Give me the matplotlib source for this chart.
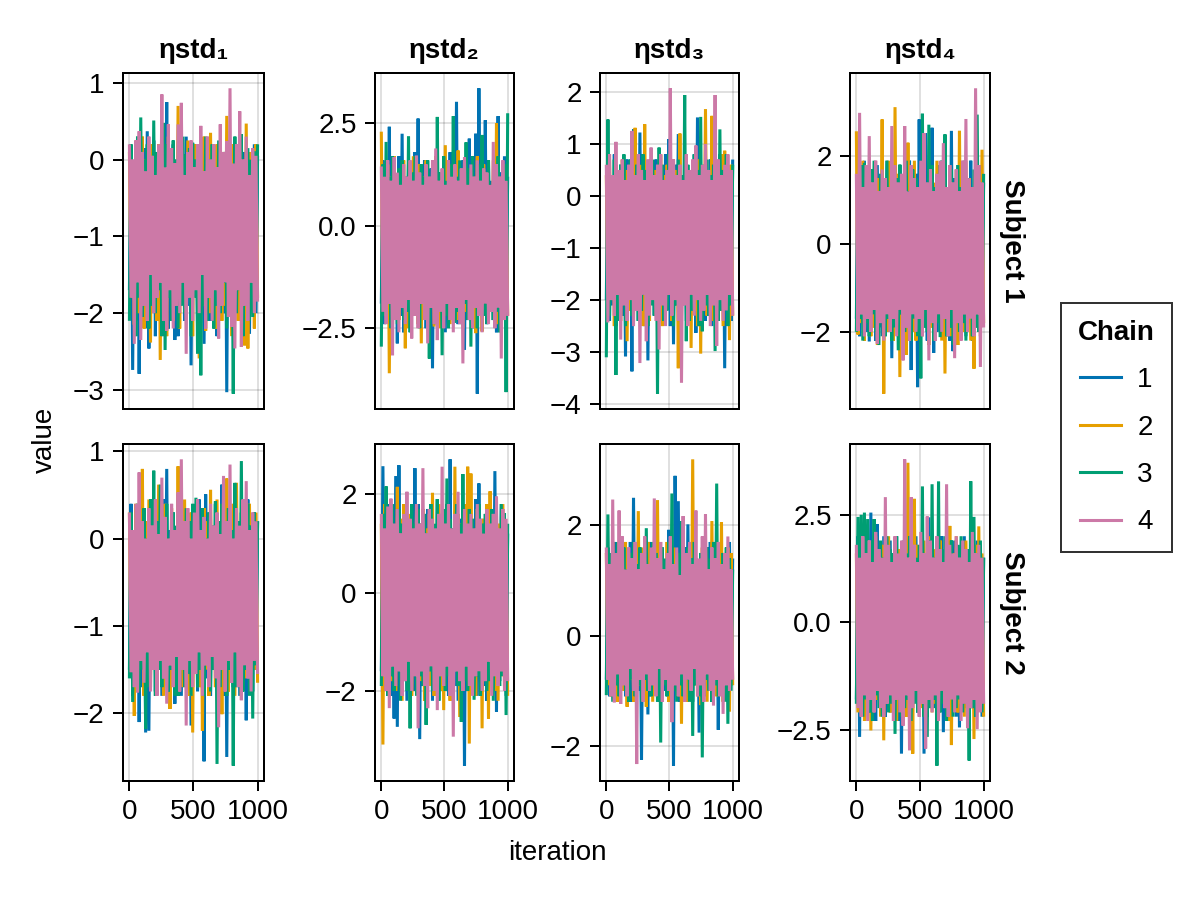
import numpy as np
import matplotlib
matplotlib.use("Agg")
import matplotlib.pyplot as plt
from matplotlib.lines import Line2D

plt.rcParams['font.family'] = ['Liberation Sans', 'DejaVu Sans']
plt.rcParams['axes.unicode_minus'] = True

# ---------------- data ----------------
chain_labels = ["1", "2", "3", "4"]
chain_colors = ["#0072B2", "#E69F00", "#009E73", "#CC79A7"]
param_titles = ["ηstd₁", "ηstd₂", "ηstd₃", "ηstd₄"]
subject_labels = ["Subject 1", "Subject 2"]
first_iter, last_iter = 1, 1000

# thinned traces; per panel: [chain1, chain2, chain3, chain4]
s1_eta1 = [
    [-1.7, 0.1, -2.74, -0.2, -2.1, 0.2, -2.79, -0.3, -1.6, 0.15, -2.2, 0.37, -2.46, -0.1, -1.8, 0.25, -2.3, -0.4, -1.9, 0.1,
     -2.0, -0.2, -1.7, 0.75, -2.2, 0.0, -1.6, 0.2, -2.35, -0.3, -2.3, 0.1, -1.8, -0.1, -2.1, 0.3, -1.9, -0.2, -2.68, 0.05,
     -1.7, 0.2, -2.2, -0.3, -1.9, 0.1, -2.4, 0.29, -1.6, -0.1, -2.1, 0.2, -1.8, -0.2, -2.3, 0.15, -1.9, -0.4, -2.0, 0.1,
     -3.03, 0.25, -1.7, -0.1, -2.2, 0.0, -1.8, 0.2, -2.1, -0.3, -1.9, 0.1, -2.3, 0.0, -2.27, -0.2, -1.8, 0.2, -2.0, 0.05],
    [0.1, -1.8, -0.2, -2.15, 0.25, -2.0, -0.1, -1.7, 0.3, -2.2, 0.0, -1.9, -0.3, -2.38, 0.2, -1.6, -0.1, -2.1, 0.2, -2.61,
     0.1, -1.8, -0.2, -2.3, 0.3, -1.7, 0.0, -2.1, -0.3, -1.9, 0.70, -2.2, 0.1, -1.6, -0.2, -2.0, 0.25, -1.8, -0.1, -2.3,
     0.2, -1.7, 0.0, -2.59, -0.2, -1.9, 0.3, -2.23, 0.0, -2.0, 0.35, -1.8, -0.1, -2.2, 0.2, -1.7, -0.3, -2.1, 0.1, -1.9,
     0.57, -2.0, 0.0, -2.3, 0.2, -1.6, -0.2, -2.1, 0.3, -1.8, 0.0, -2.42, 0.47, -2.46, 0.1, -1.9, -0.2, -2.2, 0.2, -1.8],
    [-2.1, 0.2, -1.7, -0.1, -2.3, 0.3, -1.8, 0.55, -2.05, 0.0, -1.6, 0.2, -2.2, -0.2, -1.9, 0.51, -2.0, 0.1, -1.7, -0.3,
     -2.3, 0.48, -2.48, 0.2, -1.8, -0.1, -2.1, 0.25, -1.6, 0.0, -2.2, -0.2, -1.9, 0.3, -2.0, 0.07, -1.7, 0.15, -2.3, 0.22,
     -1.8, 0.0, -2.53, 0.2, -2.81, -0.2, -1.9, 0.3, -2.1, 0.0, -1.7, 0.2, -2.2, -0.1, -1.9, 0.25, -2.0, -0.3, -1.6, 0.1,
     -2.2, 0.2, -1.8, -0.1, -3.05, 0.3, -2.0, 0.0, -1.7, 0.33, -2.3, -0.2, -1.9, 0.15, -2.1, 0.0, -2.05, 0.11, -1.8, 0.2],
    [0.2, -1.8, 0.0, -2.40, 0.25, -1.6, 0.37, -2.35, 0.1, -1.9, -0.15, -2.1, 0.3, -1.5, 0.05, -2.0, -0.2, -1.8, 0.2, -1.6,
     0.85, -2.1, -0.1, -2.23, 0.46, -1.7, 0.15, -2.2, -0.05, -1.9, 0.46, -2.0, 0.74, -1.6, -0.2, -2.53, 0.1, -1.8, 0.25, -2.1,
     -0.1, -1.7, 0.2, -2.0, 0.44, -1.5, -0.15, -2.2, 0.3, -1.8, 0.0, -2.1, 0.2, -1.7, -0.1, -2.33, 0.46, -1.9, 0.1, -1.6,
     0.24, -2.05, 0.93, -2.18, -0.05, -2.46, 0.2, -1.7, 0.63, -2.44, 0.0, -1.9, 0.3, -2.1, -0.2, -1.6, 0.15, -2.0, 0.05, -1.85],
]
s1_eta2 = [
    [-1.9, 1.6, -2.4, 1.1, -2.0, 2.42, -2.5, 1.4, -1.8, 0.9, -2.87, 1.7, -2.2, 2.25, -2.6, 1.2, -1.9, 1.5, -2.3, 1.0,
     -2.1, 1.8, -1.7, 2.62, -2.4, 1.3, -2.0, 1.6, -2.5, 1.1, -1.8, 1.4, -3.48, 1.2, -2.2, 1.7, -1.9, 1.0, -2.4, 1.5,
     -2.6, 1.3, -1.8, 1.8, -2.2, 1.1, -2.0, 3.03, -2.4, 1.4, -1.9, 1.6, -3.03, 1.2, -2.3, 2.13, -1.8, 1.5, -2.5, 2.25,
     -4.1, 3.36, -2.1, 1.2, -1.9, 2.58, -2.4, 1.6, -2.0, 1.1, -2.3, 1.5, -2.6, 2.68, -1.8, 1.3, -2.2, 1.7, -2.0, 1.2],
    [2.3, -2.2, 1.1, -1.9, 1.5, -3.6, 1.2, -2.4, 1.7, -1.8, 1.0, -2.3, 1.4, -2.0, 1.6, -2.99, 1.1, -2.5, 1.3, -1.9,
     1.7, -2.2, 1.0, -2.4, 1.5, -2.87, 1.2, -1.8, 1.6, -2.3, 1.1, -2.0, 1.4, -2.46, 1.7, -1.9, 1.0, -2.5, 1.3, -2.1,
     1.97, -1.8, 1.2, -2.4, 1.5, -2.0, 1.0, -2.3, 1.84, -1.9, 1.3, -2.5, 1.6, -2.1, 1.1, -1.8, 1.4, -2.4, 1.2, -2.62,
     1.7, -2.0, 1.1, -2.58, 1.5, -1.9, 1.3, -2.3, 1.0, -2.1, 1.6, -1.8, 2.5, -2.4, 1.2, -2.0, 1.5, -2.3, 1.1, -2.2],
    [-2.95, 1.5, -2.2, 2.05, -1.9, 1.2, -2.5, 1.7, -2.0, 1.1, -2.4, 1.4, -1.8, 1.6, -2.3, 1.0, -2.1, 2.18, -2.6, 1.3,
     -1.9, 1.7, -2.2, 1.1, -2.5, 1.5, -1.8, 1.2, -2.3, 1.6, -3.24, 1.0, -2.0, 1.4, -2.4, 2.66, -1.9, 1.3, -3.16, 1.7,
     -2.2, 1.1, -2.5, 1.5, -1.8, 2.68, -2.36, 1.2, -2.1, 1.6, -2.4, 1.0, -1.9, 2.04, -2.3, 1.4, -2.95, 1.7, -2.0, 1.1,
     -2.5, 1.5, -1.8, 2.22, -2.2, 1.3, -2.4, 1.6, -1.9, 1.0, -2.3, 1.4, -2.1, 1.7, -2.6, 1.2, -1.9, 1.5, -4.06, 2.75],
    [1.45, -2.1, 1.2, -2.4, 1.6, -1.9, 1.1, -3.16, 1.68, -2.3, 1.3, -2.6, 1.0, -2.0, 1.5, -2.4, 1.2, -1.8, 1.6, -2.75,
     1.1, -2.2, 1.72, -2.5, 1.3, -1.9, 1.0, -2.3, 1.5, -2.87, 1.2, -2.0, 1.6, -2.4, 1.89, -2.79, 1.1, -2.1, 1.4, -2.5,
     1.0, -1.9, 1.6, -2.3, 1.2, -2.6, 1.5, -2.0, 1.1, -2.4, 1.4, -3.36, 1.68, -1.8, 1.0, -2.3, 1.5, -2.5, 1.2, -2.0,
     1.6, -2.2, 1.1, -2.6, 1.4, -1.9, 1.3, -2.4, 1.0, -2.1, 2.05, -2.5, 1.5, -2.0, 1.2, -3.24, 1.6, -2.3, 1.1, -2.2],
]
s1_eta3 = [
    [-2.0, 0.7, -2.4, 0.3, -2.1, 0.8, -2.5, 0.4, -1.9, 0.6, -2.3, 0.2, -3.08, 0.7, -2.2, 0.5, -3.37, 1.28, -2.0, 0.3,
     -2.4, 1.22, -2.1, 0.8, -2.5, 0.4, -3.16, 0.6, -1.9, 0.2, -2.3, 0.7, -2.0, 0.5, -2.4, 0.3, -2.2, 0.8, -1.9, 1.09,
     -2.5, 0.4, -2.85, 0.6, -2.1, 1.19, -2.3, 0.2, -2.0, 0.7, -2.4, 0.5, -1.9, 0.3, -2.2, 0.8, -2.63, 1.51, -2.3, 0.4,
     -2.0, 0.6, -2.4, 0.2, -2.1, 0.7, -2.5, 0.5, -1.9, 0.3, -2.3, 0.8, -2.0, 0.4, -3.31, 0.6, -2.2, 0.3, -2.4, 0.7],
    [0.4, -2.3, 0.8, -2.0, 0.3, -2.5, 0.6, -2.1, 0.2, -2.4, 0.7, -1.9, 0.5, -2.79, 0.3, -2.2, 0.8, -2.4, 1.31, -2.0,
     0.4, -2.3, 0.6, -2.5, 1.38, -2.1, 0.2, -2.4, 0.7, -1.9, 0.5, -2.3, 0.3, -2.0, 0.8, -2.5, 0.4, -2.2, 0.6, -1.9,
     0.2, -2.4, 0.7, -2.1, 0.5, -3.31, 1.2, -2.3, 0.3, -2.0, 0.8, -2.4, 0.4, -2.92, 0.6, -2.2, 0.2, -2.5, 0.7, -3.03,
     0.5, -2.1, 1.67, -2.3, 0.3, -2.0, 1.54, -2.4, 0.6, -1.9, 0.4, -2.2, 0.8, -2.5, 0.87, -2.1, 0.3, -2.77, 0.6, -2.3],
    [-3.1, 1.47, -2.3, 0.4, -2.0, 0.7, -3.44, 0.3, -2.4, 0.6, -2.1, 0.8, -2.5, 0.2, -1.9, 0.7, -2.3, 0.4, -2.0, 0.6,
     -2.4, 0.3, -2.2, 0.8, -1.9, 0.5, -2.5, 0.2, -2.1, 0.7, -2.3, 0.4, -3.8, 0.93, -2.0, 0.6, -2.4, 0.3, -2.2, 0.8,
     -1.9, 0.5, -2.5, 0.2, -2.1, 0.7, -2.3, 0.4, -2.0, 1.94, -2.79, 0.6, -2.4, 0.3, -2.2, 0.8, -1.9, 0.5, -2.5, 1.52,
     -2.6, 0.2, -2.1, 0.7, -2.3, 0.4, -2.0, 0.6, -2.98, 0.3, -2.4, 1.28, -2.2, 0.5, -1.9, 0.8, -2.5, 0.3, -2.1, 0.6],
    [0.6, -2.43, 0.8, -2.0, 0.4, -2.3, 1.04, -1.9, 0.5, -2.76, 0.7, -2.1, 0.3, -2.4, 0.6, -2.0, 1.25, -2.5, 0.4, -2.2,
     0.8, -3.21, 0.5, -1.9, 0.3, -2.79, 0.7, -2.3, 0.93, -2.0, 0.4, -2.4, 0.6, -2.95, 0.8, -2.1, 0.3, -2.5, 0.5, -1.9,
     2.07, -2.3, 0.7, -2.0, 0.4, -2.4, 0.6, -3.59, 0.3, -2.1, 0.8, -2.5, 0.5, -1.9, 0.7, -2.3, 0.97, -2.0, 0.4, -2.4,
     0.6, -2.2, 1.0, -1.9, 0.5, -2.5, 0.3, -2.1, 1.94, -2.88, 0.7, -2.0, 0.4, -2.4, 0.6, -2.2, 0.8, -1.9, 0.5, -2.3],
]
s1_eta4 = [
    [-1.7, 1.8, -2.1, 1.3, -1.8, 1.9, -2.0, 1.4, -2.22, 1.7, -1.6, 1.2, -2.2, 1.8, -1.9, 1.5, -2.1, 1.3, -1.7, 1.9,
     -2.0, 1.4, -2.6, 1.7, -1.8, 1.2, -2.1, 1.8, -1.6, 1.5, -2.2, 1.3, -1.9, 1.9, -2.87, 1.4, -1.7, 1.6, -3.26, 2.84,
     -2.0, 1.2, -1.8, 2.53, -2.2, 1.7, -1.6, 2.65, -2.48, 1.3, -2.0, 1.8, -1.7, 1.4, -2.1, 1.9, -1.8, 1.2, -2.2, 2.58,
     -2.44, 1.5, -1.7, 1.8, -2.0, 1.3, -1.9, 1.7, -2.1, 1.4, -1.6, 1.9, -2.2, 1.2, -1.8, 1.6, -2.0, 1.8, -1.7, 1.4],
    [2.57, -2.06, 1.3, -1.8, 1.9, -2.2, 1.4, -1.7, 1.8, -2.1, 1.2, -1.9, 1.7, -2.3, 1.5, -1.6, 2.84, -3.41, 1.3, -2.0,
     1.9, -1.7, 1.4, -2.2, 3.12, -1.8, 1.6, -3.03, 1.2, -2.1, 1.8, -2.52, 2.31, -1.7, 1.4, -2.0, 1.9, -2.2, 1.3, -1.8,
     1.7, -2.1, 1.5, -1.6, 1.2, -2.3, 1.8, -1.9, 1.4, -2.0, 1.9, -1.7, 1.3, -2.2, 1.6, -2.95, 1.2, -1.8, 1.8, -2.1,
     1.4, -1.9, 1.7, -2.3, 2.58, -1.6, 1.3, -2.0, 1.9, -1.8, 1.5, -2.2, 1.2, -2.84, 1.8, -1.7, 1.4, -2.1, 2.15, -1.8],
    [-2.0, 1.4, -1.7, 1.8, -2.2, 1.85, -1.8, 1.3, -2.1, 1.7, -1.6, 1.9, -2.0, 1.2, -2.3, 1.6, -1.8, 1.4, -2.1, 1.9,
     -1.7, 1.3, -2.2, 1.8, -1.9, 1.5, -2.42, 1.81, -1.6, 1.4, -2.0, 1.9, -1.8, 1.2, -2.2, 1.7, -1.7, 1.5, -2.1, 1.3,
     -3.06, 2.97, -1.9, 1.4, -2.0, 2.72, -1.7, 1.8, -2.2, 1.3, -1.8, 1.6, -2.12, 1.9, -1.6, 2.5, -2.1, 1.2, -1.9, 1.7,
     -2.3, 1.4, -1.7, 1.8, -2.0, 1.3, -1.8, 1.9, -2.2, 1.5, -1.6, 1.2, -2.1, 1.7, -1.9, 2.95, -2.0, 1.4, -1.8, 1.6],
    [1.6, -1.98, 2.99, -1.6, 1.3, -2.1, 1.8, -1.7, 2.46, -2.0, 1.4, -1.5, 1.9, -2.27, 1.2, -1.8, 1.7, -2.2, 1.5, -1.6,
     1.3, -2.0, 2.69, -1.7, 1.8, -2.1, 1.4, -1.5, 1.6, -2.65, 2.69, -1.9, 1.2, -2.2, 1.8, -1.6, 1.5, -2.0, 1.3, -1.7,
     1.9, -2.1, 2.53, -1.5, 1.4, -2.65, 1.7, -1.8, 1.2, -2.2, 1.6, -1.6, 1.9, -2.0, 2.3, -1.7, 1.3, -2.1, 1.8, -1.5,
     1.4, -2.6, 1.7, -1.8, 1.2, -2.2, 1.9, -1.6, 2.85, -2.0, 1.5, -1.7, 1.3, -2.1, 3.55, -1.6, 1.8, -2.8, 1.4, -1.9],
]
s2_eta1 = [
    [-1.5, 0.4, -1.8, 0.1, -1.4, 0.3, -2.1, 0.0, -1.7, 0.35, -2.22, 0.15, -2.2, 0.4, -1.5, 0.05, -1.75, 0.3, -1.4, 0.2,
     -1.8, 0.45, -1.5, 0.80, -1.7, 0.1, -1.45, 0.3, -1.89, 0.0, -1.6, 0.4, -1.8, 0.15, -1.4, 0.35, -1.7, 0.05, -2.14, 0.3,
     -1.5, 0.2, -1.75, 0.45, -1.4, 0.1, -2.55, 0.51, -1.6, 0.3, -1.8, 0.0, -1.45, 0.4, -1.7, 0.2, -1.5, 0.62, -1.8, 0.15,
     -2.50, 0.35, -1.4, 0.05, -1.7, 0.4, -1.55, 0.2, -1.8, 0.3, -1.45, 0.1, -2.08, 0.45, -1.6, 0.0, -1.75, 0.3, -1.5, 0.2],
    [0.3, -1.5, 0.1, -2.03, 0.4, -1.7, 0.0, -1.45, 0.80, -1.8, 0.2, -1.5, 0.45, -1.7, 0.05, -1.4, 0.3, -1.75, 0.62, -1.5,
     0.15, -1.8, 0.4, -1.45, 0.0, -1.95, 0.35, -1.6, 0.1, -1.75, 0.83, -1.4, 0.2, -1.7, 0.45, -1.5, 0.05, -1.8, 0.3, -2.22,
     0.15, -1.45, 0.4, -1.7, 0.0, -2.2, 0.35, -1.5, 0.2, -1.8, 0.56, -1.4, 0.1, -1.7, 0.45, -1.55, 0.0, -2.01, 0.3, -1.45,
     0.69, -1.75, 0.15, -1.5, 0.4, -1.8, 0.64, -1.4, 0.05, -1.8, 0.35, -1.6, 0.2, -1.45, 0.4, -1.7, 0.1, -1.5, 0.3, -1.65],
    [-1.6, 0.3, -1.87, 0.05, -1.45, 0.4, -1.75, 0.15, -1.5, 0.35, -2.18, 0.0, -1.7, 0.45, -1.4, 0.78, -1.8, 0.2, -1.5, 0.62,
     -1.7, 0.1, -1.45, 0.4, -1.75, 0.0, -1.5, 0.3, -1.8, 0.15, -1.8, 0.45, -1.4, 0.05, -1.7, 0.35, -1.55, 0.2, -1.8, 0.4,
     -1.45, 0.47, -1.7, 0.1, -1.5, 0.35, -1.8, 0.0, -1.4, 0.3, -1.75, 0.15, -1.5, 0.43, -2.58, 0.2, -1.7, 0.4, -1.45, 0.05,
     -1.8, 0.35, -1.5, 0.1, -2.60, 0.64, -1.7, 0.2, -1.45, 0.89, -1.75, 0.0, -1.5, 0.4, -1.8, 0.15, -2.06, 0.3, -1.45, 0.2],
    [0.3, -1.53, 0.1, -1.7, 0.4, -1.76, 0.76, -1.4, 0.2, -1.65, 0.0, -1.3, 0.35, -1.75, 0.15, -1.5, 0.45, -1.8, 0.05, -1.4,
     0.70, -1.6, 0.25, -1.89, 0.0, -1.45, 0.4, -1.7, 0.1, -1.35, 0.53, -1.75, 0.91, -1.5, 0.2, -2.14, 0.35, -1.4, 0.0, -1.7,
     0.3, -1.55, 0.45, -1.3, 0.1, -1.8, 0.25, -1.45, 0.0, -1.7, 0.4, -1.35, 0.15, -1.6, 0.3, -2.16, 0.05, -1.5, 0.72, -1.75,
     0.2, -1.4, 0.85, -1.65, 0.0, -1.3, 0.35, -1.7, 0.15, -1.85, 0.45, -1.45, 0.66, -1.6, 0.1, -1.75, 0.3, -1.4, 0.2, -1.55],
]
s2_eta2 = [
    [-1.6, 2.57, -2.0, 1.3, -1.7, 1.8, -2.1, 1.4, -2.56, 2.37, -2.73, 2.59, -1.9, 1.2, -1.6, 1.7, -2.2, 1.5, -1.8, 1.3,
     -2.0, 2.53, -1.5, 1.8, -2.98, 1.4, -1.9, 1.2, -2.1, 1.7, -1.6, 1.5, -2.2, 1.3, -1.8, 1.9, -1.5, 1.4, -2.0, 1.2,
     -1.7, 1.8, -2.1, 2.71, -1.6, 1.3, -1.9, 1.7, -2.2, 1.5, -1.5, 1.2, -3.52, 1.8, -1.8, 1.4, -2.0, 1.3, -1.6, 1.9,
     -2.1, 2.22, -1.7, 1.5, -1.9, 1.2, -2.2, 1.7, -1.5, 1.4, -2.0, 2.47, -2.42, 1.3, -1.8, 1.8, -1.6, 1.5, -2.1, 1.2],
    [1.4, -3.09, 1.8, -1.6, 1.3, -2.1, 1.7, -1.8, 1.2, -2.0, 2.15, -1.5, 1.5, -2.2, 1.8, -1.7, 1.3, -1.9, 1.6, -2.1,
     1.2, -1.6, 1.8, -2.0, 1.4, -1.8, 1.7, -2.2, 1.3, -1.5, 1.6, -1.9, 2.03, -2.1, 1.2, -1.7, 1.8, -2.0, 1.5, -2.39,
     1.3, -1.6, 1.7, -2.2, 1.2, -1.8, 2.56, -1.5, 1.6, -2.53, 1.4, -2.0, 1.8, -1.7, 2.56, -3.07, 2.42, -1.9, 1.3, -2.1,
     1.7, -1.6, 1.2, -2.76, 1.5, -1.8, 1.8, -2.57, 2.06, -1.5, 1.3, -2.0, 1.6, -2.2, 1.4, -1.7, 1.8, -1.9, 1.2, -2.1],
    [-1.9, 1.6, -1.5, 2.16, -2.1, 1.3, -1.7, 1.8, -2.0, 1.2, -1.6, 1.7, -2.2, 1.4, -1.8, 1.5, -2.0, 1.2, -2.76, 1.8,
     -1.5, 1.4, -2.1, 1.7, -1.7, 1.3, -1.9, 1.6, -2.69, 1.2, -1.6, 1.8, -2.0, 1.4, -1.8, 1.9, -2.2, 1.3, -1.5, 1.7,
     -2.0, 2.32, -1.7, 1.5, -2.1, 1.2, -1.6, 1.8, -1.9, 1.4, -2.63, 2.41, -1.8, 1.3, -2.0, 1.7, -1.5, 1.5, -2.18, 1.2,
     -1.7, 1.8, -2.1, 1.4, -1.6, 1.6, -2.0, 1.3, -1.8, 1.7, -2.2, 1.5, -1.5, 1.2, -1.9, 1.8, -1.7, 1.61, -2.49, 1.4],
    [1.6, -1.7, 1.3, -2.0, 1.75, -2.35, 1.91, -1.5, 1.4, -1.9, 1.7, -1.6, 1.2, -2.1, 1.6, -1.8, 2.05, -1.4, 1.5, -2.0,
     1.3, -1.7, 1.8, -2.76, 1.4, -1.6, 2.53, -1.9, 1.2, -2.35, 1.7, -1.5, 1.5, -2.0, 1.3, -2.39, 1.6, -1.7, 2.56, -1.9,
     1.4, -1.5, 1.8, -2.1, 1.3, -2.93, 1.6, -1.6, 2.05, -1.8, 1.2, -2.0, 1.7, -1.5, 1.4, -1.9, 1.6, -2.1, 1.3, -1.7,
     1.8, -1.6, 1.5, -2.0, 1.2, -1.8, 1.7, -1.4, 1.4, -2.1, 1.6, -1.7, 1.96, -1.9, 1.3, -1.6, 1.7, -2.0, 1.5, -1.8],
]
s2_eta3 = [
    [-0.8, 1.6, -1.1, 1.3, -0.7, 1.7, -1.0, 1.2, -1.2, 1.5, -0.8, 1.6, -1.1, 1.3, -0.9, 1.7, -1.2, 2.5, -0.7, 1.4,
     -1.0, 1.6, -2.25, 1.2, -0.8, 1.5, -1.43, 1.7, -1.1, 1.3, -0.9, 1.6, -1.2, 1.4, -0.7, 1.5, -1.0, 1.2, -1.1, 1.92,
     -0.8, 1.6, -2.36, 2.9, -1.0, 2.44, -1.2, 1.3, -0.7, 1.6, -1.1, 2.02, -0.9, 1.4, -1.2, 1.7, -0.8, 1.3, -1.76, 1.5,
     -1.0, 1.2, -1.1, 1.6, -0.8, 1.7, -1.2, 1.4, -0.9, 1.3, -1.71, 1.6, -1.0, 1.5, -0.7, 1.2, -1.1, 1.7, -0.9, 1.4],
    [1.5, -0.9, 1.3, -1.1, 1.7, -0.8, 1.2, -1.2, 1.6, -0.9, 1.4, -1.0, 1.7, -1.29, 1.3, -0.8, 1.5, -1.2, 1.2, -1.0,
     2.26, -0.9, 1.6, -1.1, 1.3, -1.29, 1.7, -0.8, 1.4, -1.2, 1.2, -1.0, 2.46, -0.9, 1.5, -1.1, 1.3, -0.8, 1.7, -1.2,
     1.4, -1.0, 1.6, -0.9, 1.2, -1.1, 1.5, -1.6, 1.7, -0.8, 1.3, -1.2, 1.6, -1.0, 3.2, -0.9, 1.4, -1.1, 1.2, -1.26,
     1.6, -0.8, 1.5, -1.2, 1.3, -1.0, 2.08, -0.9, 1.7, -1.1, 1.4, -0.8, 2.06, -1.2, 1.3, -1.0, 1.6, -1.38, 1.5, -0.9],
    [-1.08, 2.2, -0.8, 1.5, -1.2, 1.3, -0.9, 1.7, -1.1, 1.4, -0.7, 1.6, -1.0, 1.2, -1.2, 1.5, -0.8, 1.7, -1.1, 1.3,
     -0.9, 1.6, -1.2, 1.4, -0.8, 1.95, -1.0, 1.2, -1.1, 1.7, -0.7, 1.5, -1.2, 1.3, -1.94, 1.6, -0.9, 1.4, -1.1, 1.7,
     -0.8, 2.58, -1.0, 1.3, -1.2, 1.5, -0.9, 2.08, -1.1, 1.2, -0.8, 1.6, -1.2, 1.4, -1.82, 1.7, -0.9, 1.3, -1.1, 1.5,
     -2.21, 1.2, -0.8, 1.6, -1.0, 1.4, -1.2, 1.7, -0.9, 2.76, -1.1, 1.3, -0.8, 1.5, -1.2, 1.6, -1.6, 1.4, -1.0, 1.2],
    [1.6, -0.8, 1.3, -1.1, 2.47, -1.21, 1.5, -0.7, 2.27, -1.24, 1.8, -0.9, 1.2, -1.1, 1.6, -0.6, 1.4, -1.0, 1.7, -2.33,
     1.2, -0.8, 1.5, -1.2, 1.8, -0.7, 1.3, -1.0, 1.6, -0.9, 2.49, -1.1, 1.4, -0.6, 1.7, -1.2, 1.2, -0.8, 1.5, -1.0,
     1.8, -1.57, 1.3, -0.9, 1.6, -1.1, 1.1, -0.7, 2.17, -1.2, 1.5, -0.8, 1.7, -1.0, 1.3, -0.6, 2.27, -1.1, 1.4, -0.9,
     1.8, -1.2, 2.2, -0.7, 1.2, -1.0, 1.6, -1.27, 1.4, -0.8, 1.7, -1.1, 1.3, -1.42, 1.5, -0.9, 1.8, -1.0, 1.2, -0.8],
]
s2_eta4 = [
    [-1.8, 2.0, -2.67, 1.6, -2.2, 1.9, -1.7, 1.5, -2.1, 2.55, -1.9, 1.7, -2.3, 2.28, -1.8, 1.6, -2.0, 2.0, -2.2, 1.5,
     -1.7, 1.9, -2.1, 1.6, -1.9, 2.0, -2.3, 1.7, -3.06, 1.5, -1.8, 1.9, -2.2, 1.6, -2.0, 1.8, -1.7, 2.0, -2.1, 1.5,
     -1.9, 1.7, -3.06, 1.6, -2.2, 2.44, -1.8, 1.9, -2.0, 1.5, -2.3, 1.7, -1.7, 2.0, -2.56, 1.6, -1.9, 1.8, -2.1, 1.5,
     -1.8, 1.9, -2.2, 1.7, -2.45, 1.6, -1.7, 2.0, -2.0, 1.5, -2.3, 1.8, -1.9, 1.6, -2.1, 1.9, -1.8, 1.7, -2.2, 1.5],
    [1.6, -2.1, 2.0, -1.8, 1.5, -2.3, 1.9, -1.7, 1.7, -2.52, 1.6, -2.0, 2.0, -1.8, 1.5, -2.2, 1.8, -2.75, 1.6, -1.9,
     2.0, -2.1, 1.5, -1.7, 1.9, -2.3, 1.7, -1.8, 1.6, -2.0, 2.0, -2.2, 3.71, -1.9, 1.5, -3.06, 2.87, -1.7, 1.8, -2.1,
     1.6, -2.0, 1.9, -2.3, 1.5, -1.8, 2.0, -2.1, 1.7, -1.9, 1.6, -2.2, 1.9, -1.7, 1.5, -2.0, 1.8, -2.3, 2.24, -2.86,
     1.6, -1.8, 2.0, -2.1, 1.5, -1.9, 1.7, -2.2, 1.9, -1.8, 1.6, -2.0, 1.5, -2.72, 1.8, -2.1, 2.23, -1.9, 1.6, -2.2],
    [-1.9, 2.45, -1.95, 2.5, -2.2, 2.55, -1.8, 2.4, -2.1, 1.9, -2.3, 2.4, -1.7, 1.6, -2.0, 1.9, -2.2, 1.5, -1.8, 2.0,
     -2.1, 1.7, -1.9, 1.6, -2.6, 2.0, -1.7, 1.5, -2.2, 1.9, -2.0, 1.6, -1.8, 2.0, -2.3, 1.7, -1.9, 1.5, -2.1, 1.8,
     -1.7, 3.16, -2.2, 1.6, -2.67, 1.9, -2.0, 3.21, -1.8, 1.5, -3.34, 3.27, -2.1, 1.7, -1.9, 2.0, -2.3, 1.6, -1.7, 1.9,
     -2.2, 1.5, -2.0, 1.8, -1.8, 2.0, -2.1, 1.6, -1.9, 1.7, -3.22, 3.28, -2.0, 2.45, -2.2, 1.6, -1.8, 1.9, -2.1, 1.5],
    [1.8, -2.0, 1.5, -2.2, 2.0, -1.7, 1.6, -2.3, 1.9, -1.8, 1.4, -2.1, 2.1, -1.6, 1.7, -2.0, 1.5, -2.2, 2.91, -1.9,
     1.8, -1.7, 1.4, -2.3, 2.0, -1.8, 1.6, -2.1, 1.9, -2.41, 3.79, -1.7, 1.5, -2.98, 2.91, -2.0, 1.8, -1.6, 1.4, -2.2,
     2.1, -1.9, 1.6, -2.94, 2.46, -1.8, 1.9, -2.1, 1.5, -1.7, 2.0, -2.3, 1.7, -1.6, 1.4, -2.0, 3.21, -2.2, 1.8, -1.8,
     1.6, -2.1, 2.0, -1.7, 1.5, -2.3, 1.9, -1.9, 1.7, -2.47, 1.4, -2.0, 2.1, -1.8, 1.6, -2.49, 1.8, -2.1, 1.5, -1.9],
]
panels = [[s1_eta1, s1_eta2, s1_eta3, s1_eta4],
          [s2_eta1, s2_eta2, s2_eta3, s2_eta4]]

xticks = [0, 500, 1000]
yticks = [[[-3, -2, -1, 0, 1], [-2.5, 0.0, 2.5], [-4, -3, -2, -1, 0, 1, 2], [-2, 0, 2]],
          [[-2, -1, 0, 1], [-2, 0, 2], [-2, 0, 2], [-2.5, 0.0, 2.5]]]

# ---------------- layout ----------------
FS = 20
LW_AX = 1.44
fig = plt.figure(figsize=(12, 9), dpi=100)
col_px = [(123, 264), (375, 514), (600, 739), (850, 990)]
row_px = [(73, 409), (444, 781)]
W, H = 1200, 900

def fmt(v, step):
    s = f"{v:.1f}" if step % 1 else f"{int(round(v))}"
    return s.replace("-", "\u2212")

for r in range(2):
    for c in range(4):
        x0, x1 = col_px[c]
        y0, y1 = row_px[r]
        ax = fig.add_axes([x0 / W, 1 - y1 / H, (x1 - x0) / W, (y1 - y0) / H])
        data = panels[r][c]
        for k in range(4):
            vals = data[k]
            iteration = np.linspace(first_iter, last_iter, len(vals))
            ax.plot(iteration, vals, color=chain_colors[k], lw=2.2,
                    solid_joinstyle='bevel', solid_capstyle='butt', zorder=2 + k)
        ax.margins(x=0.05, y=0.05)
        ax.set_xticks(xticks)
        yt = yticks[r][c]
        step = yt[1] - yt[0]
        ax.set_yticks(yt, [fmt(v, step) for v in yt])
        ax.grid(True, color='black', alpha=0.12, lw=LW_AX, zorder=0)
        ax.set_axisbelow(True)
        for sp in ax.spines.values():
            sp.set_linewidth(LW_AX)
            sp.set_zorder(10)
        ax.tick_params(axis='both', labelsize=FS, length=7.2, width=LW_AX, pad=6,
                       direction='out')
        if r == 0:
            ax.tick_params(axis='x', bottom=False, labelbottom=False)
            ax.set_title(param_titles[c], fontsize=FS, fontweight='bold', pad=11)

# row labels
for r in range(2):
    y0, y1 = row_px[r]
    fig.text(1012 / W, 1 - (y0 + y1) / 2 / H, subject_labels[r], rotation=-90,
             ha='center', va='center', fontsize=FS, fontweight='bold')

fig.text(45 / W, 1 - 440 / H, "value", rotation=90, ha='center', va='center', fontsize=FS)
fig.text(557 / W, 1 - 853 / H, "iteration", ha='center', va='center', fontsize=FS)

handles = [Line2D([0], [0], color=col, lw=2.2) for col in chain_colors]
leg = fig.legend(handles, chain_labels, title="Chain", loc='center',
                 bbox_to_anchor=(1116.5 / W, 1 - 427.5 / H), fontsize=FS,
                 title_fontproperties={'weight': 'bold', 'size': FS},
                 frameon=True, fancybox=False, edgecolor='black',
                 handlelength=1.45, handletextpad=0.6, labelspacing=0.77,
                 borderpad=0.6, borderaxespad=0)
leg.get_frame().set_linewidth(LW_AX)

fig.savefig("out.png", dpi=100)
